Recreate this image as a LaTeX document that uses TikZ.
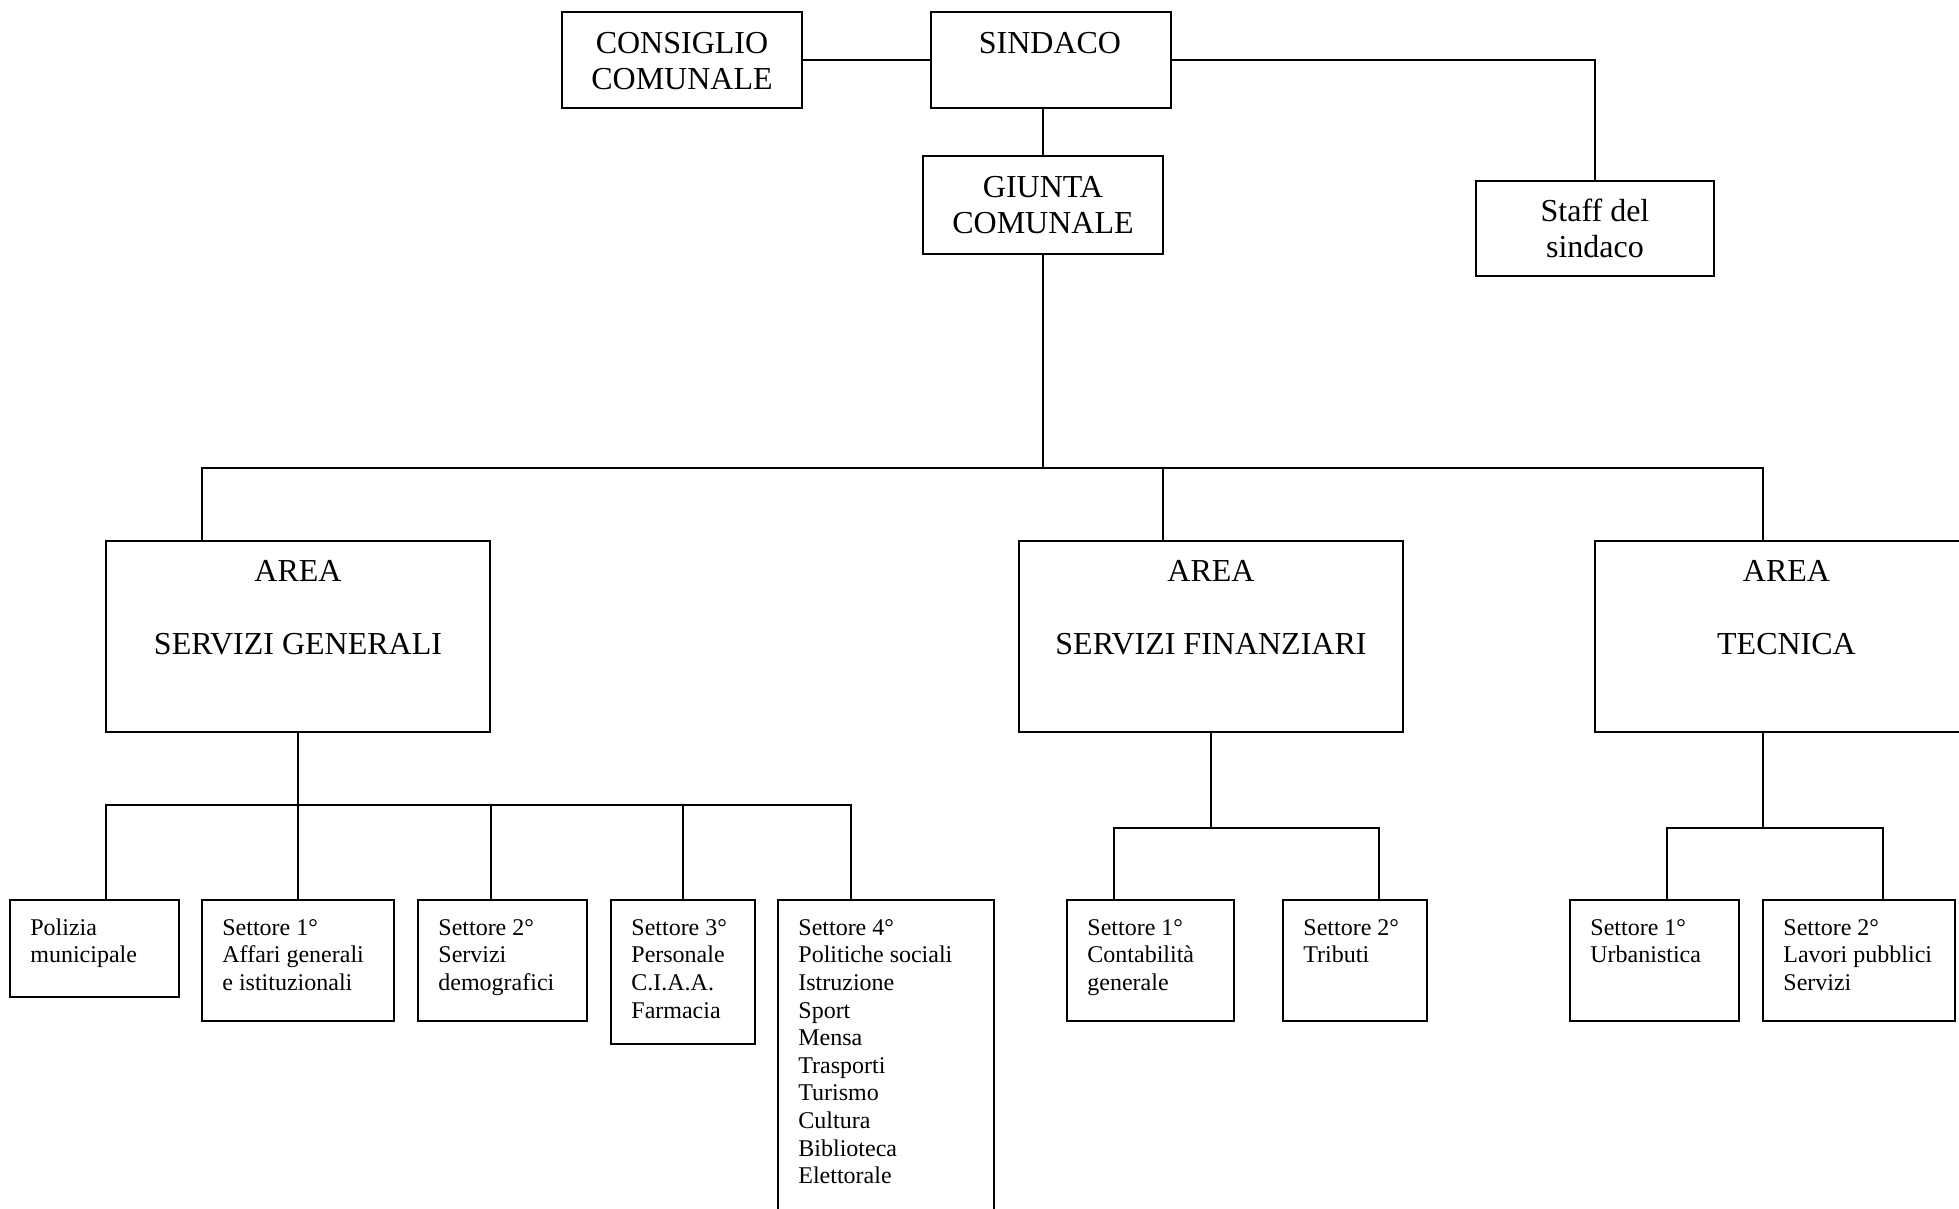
\documentclass[tikz,border=0pt]{standalone}
\usepackage{fontspec}
\setmainfont{Liberation Serif}
\usetikzlibrary{fit}
\begin{document}
\begin{tikzpicture}[x=0.5pt,y=-0.5pt,
  box/.style={draw, line width=1pt, inner sep=0pt},
  wire/.style={line width=1pt, line cap=rect},
  bigtxt/.style={inner sep=0pt, anchor=north, align=center, font=\fontsize{16}{18.4}\selectfont},
  smalltxt/.style={inner sep=0pt, anchor=north west, align=left, font=\fontsize{12}{13.8}\selectfont}]
\useasboundingbox (0,0) rectangle (1959,1209);
\clip (0,0) rectangle (1959,1209);
% top level boxes
\node[box, fit={(562,12) (802,108)}] (consiglio) {};
\node[box, fit={(931,12) (1171,108)}] (sindaco) {};
\node[box, fit={(923,156) (1163,254)}] (giunta) {};
\node[box, fit={(1476,181) (1714,276)}] (staff) {};
\node[bigtxt] (consiglioT) at (682,27) {\strut CONSIGLIO\\COMUNALE};
\node[bigtxt] (sindacoT) at (1050,27) {\strut SINDACO};
\node[bigtxt] (giuntaT) at (1043,171) {\strut GIUNTA\\COMUNALE};
\node[bigtxt] (staffT) at (1595,195) {\strut Staff del\\sindaco};
% areas
\node[box, fit={(106,541) (490,732)}] (areaSG) {};
\node[box, fit={(1019,541) (1403,732)}] (areaSF) {};
\node[box, fit={(1595,541) (1978,732)}] (areaT) {};
\node[bigtxt] (areaSGT) at (298,555) {\strut AREA\\\strut\\SERVIZI GENERALI};
\node[bigtxt] (areaSFT) at (1211,555) {\strut AREA\\\strut\\SERVIZI FINANZIARI};
\node[bigtxt] (areaTT) at (1786.5,555) {\strut AREA\\\strut\\TECNICA};
% sectors
\node[box, fit={(10,900) (179,997)}] (polizia) {};
\node[box, fit={(202,900) (394,1021)}] (s1) {};
\node[box, fit={(418,900) (587,1021)}] (s2) {};
\node[box, fit={(611,900) (755,1044)}] (s3) {};
\node[box, fit={(778,900) (994,1260)}] (s4) {};
\node[box, fit={(1067,900) (1234,1021)}] (cont) {};
\node[box, fit={(1283,900) (1427,1021)}] (trib) {};
\node[box, fit={(1570,900) (1739,1021)}] (urb) {};
\node[box, fit={(1763,900) (1955,1021)}] (lav) {};
\node[smalltxt] (poliziaT) at (30,915.5) {\strut Polizia\\municipale};
\node[smalltxt] (s1T) at (222,915.5) {\strut Settore 1°\\Affari generali\\e istituzionali};
\node[smalltxt] (s2T) at (438,915.5) {\strut Settore 2°\\Servizi\\demografici};
\node[smalltxt] (s3T) at (631,915.5) {\strut Settore 3°\\Personale\\C.I.A.A.\\Farmacia};
\node[smalltxt] (s4T) at (798,915.5) {\strut Settore 4°\\Politiche sociali\\Istruzione\\Sport\\Mensa\\Trasporti\\Turismo\\Cultura\\Biblioteca\\Elettorale};
\node[smalltxt] (contT) at (1087,915.5) {\strut Settore 1°\\Contabilità\\generale};
\node[smalltxt] (tribT) at (1303,915.5) {\strut Settore 2°\\Tributi};
\node[smalltxt] (urbT) at (1590,915.5) {\strut Settore 1°\\Urbanistica};
\node[smalltxt] (lavT) at (1783,915.5) {\strut Settore 2°\\Lavori pubblici\\Servizi};
% connectors top
\draw[wire] (consiglio.east) -- (sindaco.west);
\draw[wire] (giunta.north) -- (giunta.north |- sindaco.south);
\draw[wire] (sindaco.east) -| (staff.north);
% giunta bus
\coordinate (j1) at (202,468);
\coordinate (j2) at (1163,468);
\coordinate (j3) at (1763,468);
\draw[wire] (giunta.south) -- (giunta.south |- j1);
\draw[wire] (j1) -- (j3);
\draw[wire] (j1) -- (j1 |- areaSG.north);
\draw[wire] (j2) -- (j2 |- areaSF.north);
\draw[wire] (j3) -- (j3 |- areaT.north);
% servizi generali bus
\coordinate (g1) at (106,805);
\coordinate (g2) at (298,805);
\coordinate (g3) at (491,805);
\coordinate (g4) at (683,805);
\coordinate (g5) at (851,805);
\draw[wire] (areaSG.south) -- (areaSG.south |- g1);
\draw[wire] (g1) -- (g5);
\draw[wire] (g1) -- (g1 |- polizia.north);
\draw[wire] (g2) -- (g2 |- s1.north);
\draw[wire] (g3) -- (g3 |- s2.north);
\draw[wire] (g4) -- (g4 |- s3.north);
\draw[wire] (g5) -- (g5 |- s4.north);
% servizi finanziari bus
\coordinate (f1) at (1114,828);
\coordinate (f2) at (1379,828);
\draw[wire] (areaSF.south) -- (areaSF.south |- f1);
\draw[wire] (f1) -- (f2);
\draw[wire] (f1) -- (f1 |- cont.north);
\draw[wire] (f2) -- (f2 |- trib.north);
% tecnica bus
\coordinate (t1) at (1667,828);
\coordinate (t2) at (1883,828);
\draw[wire] (j3 |- areaT.south) -- (j3 |- t1);
\draw[wire] (t1) -- (t2);
\draw[wire] (t1) -- (t1 |- urb.north);
\draw[wire] (t2) -- (t2 |- lav.north);
\end{tikzpicture}
\end{document}
